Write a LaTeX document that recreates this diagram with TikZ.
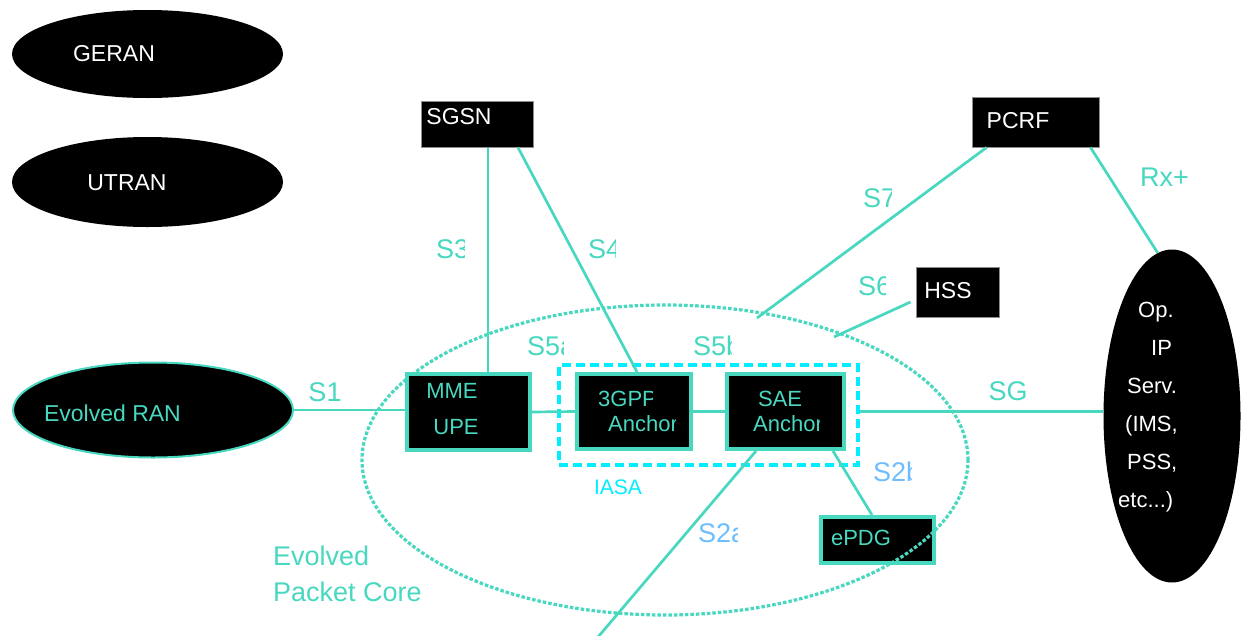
\documentclass[tikz,border=0pt]{standalone}
\usepackage{fontspec}
\setmainfont{Liberation Sans}
\usetikzlibrary{shapes.geometric,calc}
\definecolor{epc}{RGB}{72,216,192}
\definecolor{iasacol}{RGB}{0,238,255}
\definecolor{ifblue}{RGB}{110,190,255}
\definecolor{frame}{RGB}{140,140,140}
\tikzset{
  darkbox/.style={rectangle, draw=frame, line width=1pt, fill=black, inner sep=0pt},
  epcbox/.style={rectangle, draw=epc, line width=4pt, fill=black, inner sep=0pt},
  darkoval/.style={ellipse, fill=black, inner sep=0pt},
  link/.style={draw=epc, line width=2.7pt},
  corering/.style={draw=epc, line width=3.2pt, dash pattern=on 3.5pt off 2pt},
  iasabox/.style={rectangle, draw=iasacol, line width=3.5pt, dash pattern=on 9pt off 5pt, inner sep=0pt},
  whitetxt/.style={text=white, inner sep=0pt, font=\fontsize{23}{27}\selectfont},
  epctxt/.style={text=epc, inner sep=0pt, font=\fontsize{22}{26}\selectfont},
  iflabel/.style={text=epc, inner sep=0pt, font=\fontsize{27}{32}\selectfont},
  bluelabel/.style={iflabel, text=ifblue},
}
% label cut off at a given right edge
\newcommand{\clippednode}[6]{%
  \begin{scope}
    \clip (#3-4,#4-25) rectangle (#5,#4+25);
    \node[#1, anchor=west] (#2) at (#3,#4) {#6};
  \end{scope}}

\begin{document}
\begin{tikzpicture}[x=1pt,y=-1pt]
\fill[white] (0,0) rectangle (1241,635);
\useasboundingbox (0,0) rectangle (1241,635);

% access networks
\node[darkoval, minimum width=271pt, minimum height=88pt] (geran) at (147.5,54) {};
\node[whitetxt] (geran-t) at (114,54) {GERAN};
\node[darkoval, minimum width=271pt, minimum height=90pt] (utran) at (147.5,182) {};
\node[whitetxt] (utran-t) at (127,183) {UTRAN};
\node[darkoval, draw=epc, line width=2pt, minimum width=280pt, minimum height=95pt] (eran) at (153,410) {};
\node[epctxt, font=\fontsize{23}{27}\selectfont] (eran-t) at (112.5,413.5) {Evolved RAN};

% external nodes
\node[darkbox, minimum width=112pt, minimum height=46pt] (sgsn) at (477,124) {};
\node[whitetxt] (sgsn-t) at (459,116.5) {SGSN};
\node[darkbox, minimum width=127pt, minimum height=50pt] (pcrf) at (1035.5,122) {};
\node[whitetxt] (pcrf-t) at (1018,121) {PCRF};
\node[darkbox, minimum width=83pt, minimum height=50pt] (hss) at (957.5,292) {};
\node[whitetxt] (hss-t) at (948,291) {HSS};
\node[darkoval, minimum width=137pt, minimum height=333pt] (opip) at (1172,416) {};
\node[whitetxt, font=\fontsize{22}{38}\selectfont, align=left, anchor=north west] (opip-t) at (1118,302)
  {\hspace*{20pt}Op.\\ \hspace*{33pt}IP\\ \hspace*{9pt}Serv.\\ \hspace*{7pt}(IMS,\\ \hspace*{9pt}PSS,\\ etc...)};

% ePDG sits under the core boundary
\node[epcbox, minimum width=113pt, minimum height=46pt] (epdg) at (877.5,540) {};
\node[epctxt] (epdg-t) at (861,538) {ePDG};

% evolved packet core boundary
\draw[corering] (665,460) ellipse [x radius=303pt, y radius=155pt];
\node[iflabel, font=\fontsize{27}{36}\selectfont, align=left, anchor=north west] (core-t) at (273,546) {Evolved\\Packet Core};

% core entities
\node[epcbox, minimum width=123pt, minimum height=76pt] (mme) at (468.5,412) {};
\node[epctxt] (mme-t1) at (452,391) {MME};
\node[epctxt] (mme-t2) at (456,427) {UPE};
\node[epcbox, minimum width=114pt, minimum height=75pt] (g3) at (634,411.5) {};
\clippednode{epctxt}{g3-t1}{598}{399}{652}{3GPP}
\clippednode{epctxt}{g3-t2}{608}{424}{675}{Anchor}
\node[epcbox, minimum width=117pt, minimum height=75pt] (sae) at (785.5,411.5) {};
\node[epctxt] (sae-t1) at (780,399) {SAE};
\clippednode{epctxt}{sae-t2}{753}{424}{819}{Anchor}

\node[iasabox, minimum width=299pt, minimum height=100pt] (iasa) at (708.5,415) {};
\node[text=iasacol, inner sep=0pt, font=\fontsize{21}{25}\selectfont] (iasa-t) at (618,487.5) {IASA};

% free ends of the interfaces
\coordinate (s7end) at (757,318);
\coordinate (s6end) at (834,337);
\coordinate (s2aend) at (598,637);

% interfaces
\draw[link] (eran.east) -- (eran.east -| mme.west);
\draw[link] (mme.east) -- (g3.west);
\draw[link] (g3.east) -- (sae.west);
\draw[link] (sae.east -| iasa.east) -- (sae.east -| opip.west);
\draw[link] ([xshift=11pt]sgsn.south) -- ([xshift=11pt]sgsn.south |- mme.north);
\draw[link] ([xshift=41pt]sgsn.south) -- ([xshift=3pt]g3.north);
\draw[link] ([xshift=15pt]pcrf.south west) -- (s7end);
\draw[link] ([xshift=-9pt]pcrf.south east) -- (opip.95);
\draw[link] ($(hss.west)+(-5,10)$) -- (s6end);
\draw[link] ([xshift=-29.5pt]sae.south) -- (s2aend);
\draw[link] ([xshift=47.5pt]sae.south) -- ([xshift=-5.5pt]epdg.north);

% interface names
\node[iflabel] (s1-t) at (325,392) {S1};
\node[iflabel] (sg-t) at (1008,391) {SG};
\node[iflabel, anchor=west] (rx-t) at (1140,177) {Rx+};
\clippednode{iflabel}{s3-t}{436}{249}{464}{S3}
\clippednode{iflabel}{s4-t}{588}{249}{615}{S4}
\clippednode{iflabel}{s5a-t}{527}{346}{563}{S5a}
\clippednode{iflabel}{s5b-t}{693}{346}{731}{S5b}
\clippednode{iflabel}{s7-t}{863}{198}{891}{S7}
\clippednode{iflabel}{s6-t}{858}{286}{885}{S6}
\clippednode{bluelabel}{s2a-t}{698}{533}{737}{S2a}
\clippednode{bluelabel}{s2b-t}{873}{472}{911}{S2b}
\end{tikzpicture}
\end{document}
